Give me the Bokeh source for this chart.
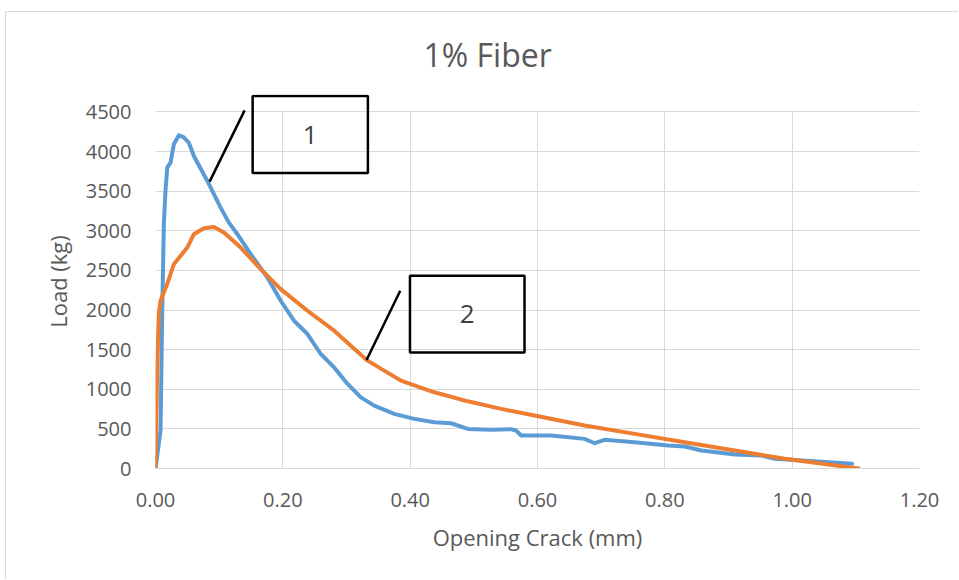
from bokeh.plotting import figure
from bokeh.models import FixedTicker, NumeralTickFormatter, PolyAnnotation, Label
from bokeh.embed import file_html
from bokeh.resources import INLINE

# Specimen 1: crack opening (mm) and load (kg)
crack_1 = [0.0, 0.0079, 0.0105, 0.0131, 0.0157, 0.0184, 0.0236, 0.0288, 0.0367,
           0.044, 0.0524, 0.0603, 0.0814, 0.1023, 0.1153, 0.1286, 0.1495, 0.1758,
           0.1967, 0.2176, 0.2387, 0.2596, 0.2806, 0.3017, 0.3226, 0.3435, 0.375,
           0.4065, 0.4379, 0.4642, 0.4905, 0.5271, 0.5586, 0.5665, 0.5744, 0.6216,
           0.674, 0.6897, 0.7054, 0.7526, 0.8052, 0.8313, 0.8576, 0.91, 0.952,
           0.973, 1.0149, 1.094]
load_1 = [0, 479, 1953, 3083, 3503, 3796, 3860, 4091, 4205,
          4183, 4111, 3944, 3629, 3292, 3103, 2957, 2705, 2410,
          2117, 1865, 1697, 1445, 1276, 1067, 898, 794, 689,
          626, 583, 571, 500, 488, 495, 479, 416, 416,
          374, 319, 362, 331, 290, 277, 227, 176, 164,
          122, 101, 59]

# Specimen 2: crack opening (mm) and load (kg)
crack_2 = [0.0, 0.0027, 0.0052, 0.0079, 0.0184, 0.0288, 0.0499, 0.0603, 0.076,
           0.0917, 0.1075, 0.1338, 0.1652, 0.1967, 0.2387, 0.2806, 0.3331, 0.3855,
           0.4379, 0.4905, 0.5429, 0.5953, 0.674, 0.7526, 0.8313, 0.91, 0.9887, 1.1046]
load_2 = [0, 1276, 1949, 2117, 2327, 2579, 2788, 2957, 3033,
          3049, 2977, 2788, 2516, 2264, 1991, 1739, 1361, 1109,
          962, 848, 752, 668, 542, 437, 331, 227, 122, 0]

x_ticks = [0.0, 0.2, 0.4, 0.6, 0.8, 1.0, 1.2]
y_ticks = [0, 500, 1000, 1500, 2000, 2500, 3000, 3500, 4000, 4500]
y_axis_max = 4500

# Numbered callouts (box corners and leader lines, in data units)
callout_text = ["1", "2"]
callout_left = [0.1526, 0.3997]
callout_right = [0.3336, 0.5796]
callout_top = [4700, 2432]
callout_bottom = [3730, 1465]
leader_x0 = [0.1400, 0.3844]
leader_y0 = [4520, 2243]
leader_x1 = [0.0850, 0.3315]
leader_y1 = [3620, 1370]

FONT = "Open Sans"
TEXT = "#595959"
GRID = "#d9d9d9"
BLUE = "#5B9BD5"
ORANGE = "#ED7D31"

# The visible range runs a little above the top tick so the first callout
# box fits inside the frame; grid lines stop at the top tick.
Y_VIEW_TOP = 4720

p = figure(width=953, height=568, x_range=(0, 1.2), y_range=(0, Y_VIEW_TOP),
           output_backend="svg", toolbar_location=None,
           min_border_left=149, min_border_right=40,
           min_border_top=81, min_border_bottom=112,
           x_axis_label="Opening Crack (mm)", y_axis_label="Load (kg)",
           margin=(11, 0, 0, 5))
p.styles = {"border-top": "1px solid #d9d9d9", "border-left": "1px solid #d9d9d9"}
p.outline_line_color = None
p.background_fill_color = "white"
p.border_fill_color = "white"

p.title.text = "1% Fiber"
p.title.text_font = FONT
p.title.text_font_size = "32px"
p.title.text_font_style = "normal"
p.title.text_color = TEXT
p.title.align = "left"
p.title.offset = 268
p.title.standoff = 37

for ax in (p.xaxis[0], p.yaxis[0]):
    ax.major_tick_line_color = None
    ax.minor_tick_line_color = None
    ax.major_label_text_font = FONT
    ax.major_label_text_font_size = "20px"
    ax.major_label_text_color = TEXT
    ax.axis_label_text_font = FONT
    ax.axis_label_text_font_size = "22px"
    ax.axis_label_text_font_style = "normal"
    ax.axis_label_text_color = TEXT

p.xaxis.ticker = FixedTicker(ticks=x_ticks)
p.xaxis.formatter = NumeralTickFormatter(format="0.00")
p.xaxis.axis_line_color = GRID
p.xaxis.major_label_standoff = 18
p.xaxis.axis_label_standoff = 12

p.yaxis.ticker = FixedTicker(ticks=y_ticks)
p.yaxis.axis_line_color = None
p.yaxis.major_label_standoff = 18
p.yaxis.axis_label_standoff = 10

p.xgrid.ticker = FixedTicker(ticks=x_ticks)
p.ygrid.ticker = FixedTicker(ticks=y_ticks)
p.xgrid.cross_bounds = (0, y_axis_max)
p.grid.grid_line_color = GRID
p.grid.grid_line_width = 1

# Load–crack curves
p.line(crack_1, load_1, line_color=BLUE, line_width=4, line_join="round", line_cap="round")
p.line(crack_2, load_2, line_color=ORANGE, line_width=4, line_join="round", line_cap="round")

# Callout boxes, leader lines and numbers
for i, t in enumerate(callout_text):
    l, r = callout_left[i], callout_right[i]
    tp, bt = callout_top[i], callout_bottom[i]
    p.add_layout(PolyAnnotation(xs=[l, r, r, l], ys=[tp, tp, bt, bt],
                                fill_alpha=0, line_color="black", line_alpha=1,
                                line_width=2.5))
    p.add_layout(Label(x=(l + r) / 2, y=(tp + bt) / 2, text=t,
                       text_align="center", text_baseline="middle",
                       text_font=FONT, text_font_size="26px", text_color="#404040"))
p.segment(leader_x0, leader_y0, leader_x1, leader_y1, line_color="black", line_width=2.5)

open("out.html", "w").write(file_html(p, INLINE))
